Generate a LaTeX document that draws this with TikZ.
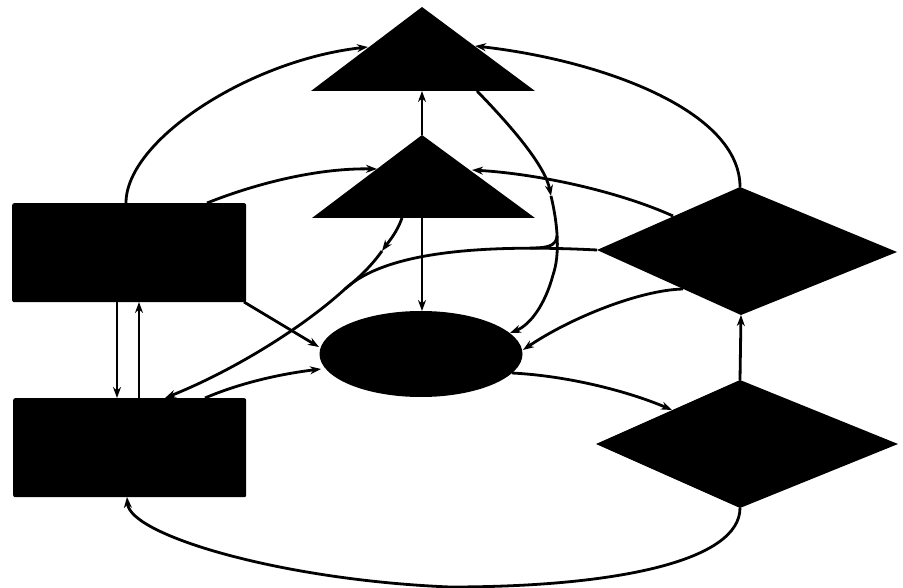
\documentclass[tikz,border=0pt]{standalone}
\usetikzlibrary{arrows.meta,shapes.geometric}
\begin{document}
\begin{tikzpicture}[x=1pt,y=-1pt,
  blk/.style={fill=black,draw=none,inner sep=0pt},
  conn/.style={line width=2.8pt,-{Stealth[length=11pt,width=8pt]}},
  plain/.style={line width=2.8pt}]
\useasboundingbox (0,0) rectangle (903,588);
% nodes
\node[blk,rounded corners=2pt,minimum width=234pt,minimum height=99pt,anchor=north west] (R1) at (12,203) {};
\node[blk,rounded corners=2pt,minimum width=233pt,minimum height=99pt,anchor=north west] (R2) at (13,398) {};
\node[blk,ellipse,minimum width=203pt,minimum height=86pt] (E) at (421,354) {};
% diamonds
\coordinate (D1t) at (740,187); \coordinate (D1r) at (897,252); \coordinate (D1b) at (741,315); \coordinate (D1l) at (597,250);
\coordinate (D2t) at (740,380); \coordinate (D2r) at (898,444); \coordinate (D2b) at (740,508); \coordinate (D2l) at (596,444);
\fill (D1t) -- (D1r) -- (D1b) -- (D1l) -- cycle;
\fill (D2t) -- (D2r) -- (D2b) -- (D2l) -- cycle;
% triangles
\coordinate (T1a) at (422,7);  \coordinate (T1l) at (311,91);  \coordinate (T1r) at (535,91);
\coordinate (T2a) at (422,135); \coordinate (T2l) at (312,218); \coordinate (T2r) at (535,218);
\fill (T1a) -- (T1l) -- (T1r) -- cycle;
\fill (T2a) -- (T2l) -- (T2r) -- cycle;
% attach points
\coordinate (T1b) at (422,91);  \coordinate (T1br) at (477,91);
\coordinate (T1L) at (368,47);  \coordinate (T1R) at (475,46);
\coordinate (T2b) at (422,218); \coordinate (T2bl) at (402,218);
\coordinate (T2L) at (377,169); \coordinate (T2R) at (472,170);
\coordinate (R1t1) at (126,203); \coordinate (R1t2) at (207,203);
\coordinate (R1b1) at (117,302); \coordinate (R1b2) at (139,302);
\coordinate (R1br) at (244,302);
\coordinate (R2t1) at (117,398); \coordinate (R2t2) at (139,398);
\coordinate (R2t3) at (165,398); \coordinate (R2t4) at (205,398);
\coordinate (R2b) at (127,497);
\coordinate (Et) at (422,311); \coordinate (El1) at (319,347); \coordinate (El2) at (321,369);
\coordinate (Er1) at (510,333); \coordinate (Er2) at (523,350); \coordinate (Er3) at (512,373);
\coordinate (D1ul) at (673,216); \coordinate (D1ll) at (683,289);
\coordinate (D2ul) at (672,410);
\coordinate (m1) at (551,196); \coordinate (m2) at (382,251); \coordinate (mg) at (345,289);
% connectors
\draw[conn] (R1t1) .. controls (126,140) and (250,60) .. (T1L);
\draw[conn] (R1t2) .. controls (260,182) and (320,168) .. (T2L);
\draw[conn] (D1t) .. controls (740,110) and (600,60) .. (T1R);
\draw[conn] (D1ul) .. controls (620,192) and (540,174) .. (T2R);
\draw[conn] (T2a) -- (T1b);
\draw[conn] (T2b) -- (Et);
\draw[conn] (R1br) -- (El1);
\draw[conn] (R2t4) .. controls (240,383) and (280,374) .. (El2);
\draw[conn] (R1b1) -- (R2t1);
\draw[conn] (R2t2) -- (R1b2);
\draw[conn] (D2b) .. controls (740,560) and (620,587) .. (450,587) .. controls (280,580) and (130,535) .. (R2b);
\draw[conn] (D2t) -- (D1b);
\draw[conn] (Er3) .. controls (570,376) and (630,392) .. (D2ul);
\draw[conn] (D1ll) .. controls (640,290) and (570,318) .. (Er2);
% merged splines
\draw[conn] (T1br) .. controls (510,125) and (545,165) .. (m1);
\draw[conn] (m1) .. controls (558,225) and (560,255) .. (553,275) .. controls (545,305) and (530,325) .. (Er1);
\draw[plain] (557,236) .. controls (556,246) and (548,248) .. (530,248);
\draw[conn] (D1l) .. controls (480,244) and (385,252) .. (mg) .. controls (300,330) and (230,372) .. (R2t3);
\draw[conn] (T2bl) .. controls (397,232) and (390,240) .. (m2);
\draw[plain] (m2) .. controls (372,265) and (360,277) .. (mg);
\end{tikzpicture}
\end{document}
